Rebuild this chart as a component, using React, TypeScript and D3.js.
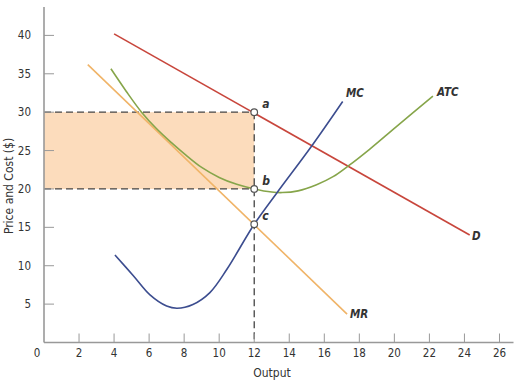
import * as d3 from 'd3'

// curve data: [output, price]
const demand: [number, number][] = [[4, 40.2], [24.3, 14]]
const marginalRevenue: [number, number][] = [[2.5, 36.2], [17.3, 3.7]]
const marginalCost: [number, number][] = [
  [4.05, 11.4], [5.1, 8.7], [6.05, 6.2], [7, 4.75], [7.6, 4.46], [8.5, 4.95], [9.47, 6.5],
  [10.43, 9.5], [12, 15.4], [13.28, 19.45], [15.28, 25.6], [17.05, 31.4],
]
const averageTotalCost: [number, number][] = [
  [3.82, 35.65], [4.7, 32.7], [5.57, 30], [6.4, 27.9], [7.29, 26], [8, 24.6], [9, 22.8],
  [10, 21.5], [11, 20.6], [12, 20], [13, 19.6], [13.6, 19.53], [14.5, 19.75], [15.56, 20.55],
  [16.5, 21.6], [17.37, 23.0], [18.6, 25.2], [20.1, 28.1], [22.2, 32.1],
]
const xTicks = [2, 4, 6, 8, 10, 12, 14, 16, 18, 20, 22, 24, 26]
const yTicks = [5, 10, 15, 20, 25, 30, 35, 40]
const qStar = 12
const price = 30
const atcAtQ = 20
const mcAtQ = 15.4

const font = '"DejaVu Sans Condensed", "Liberation Sans", sans-serif'

export default function App() {
  const x = d3.scaleLinear().domain([0, 26.8]).range([44, 513.5])
  const y = d3.scaleLinear().domain([0, 43.7]).range([342.5, 7])
  const straight = d3.line<[number, number]>().x(d => x(d[0])).y(d => y(d[1]))
  const smooth = d3.line<[number, number]>().x(d => x(d[0])).y(d => y(d[1])).curve(d3.curveCatmullRom.alpha(0.5))

  const points = [
    { q: qStar, p: price, label: 'a' },
    { q: qStar, p: atcAtQ, label: 'b' },
    { q: qStar, p: mcAtQ, label: 'c' },
  ]
  const axisColor = '#999'
  const dash = '7,4'

  return (
    <div style={{ position: 'absolute', left: 0, top: 0 }}>
      <svg width={522} height={385} style={{ display: 'block', fontFamily: font }}>
        <rect x={0} y={0} width={522} height={385} fill="#fff" />
        {/* profit area */}
        <rect x={x(0)} y={y(price)} width={x(qStar) - x(0)} height={y(atcAtQ) - y(price)} fill="#fcdcbc" />
        <line x1={x(0)} x2={x(qStar)} y1={y(price)} y2={y(price)} stroke="#444" strokeWidth={1.3} strokeDasharray={dash} />
        <line x1={x(0)} x2={x(qStar)} y1={y(atcAtQ)} y2={y(atcAtQ)} stroke="#444" strokeWidth={1.3} strokeDasharray={dash} />
        <line x1={x(qStar)} x2={x(qStar)} y1={y(price)} y2={y(0)} stroke="#444" strokeWidth={1.3} strokeDasharray={dash} />

        {/* axes */}
        <line x1={x(0)} x2={x(0)} y1={y(43.7)} y2={y(0)} stroke={axisColor} strokeWidth={1.6} />
        <line x1={x(0)} x2={x(26.8)} y1={y(0)} y2={y(0)} stroke={axisColor} strokeWidth={1.6} />
        {yTicks.map(t => (
          <g key={'y' + t}>
            <line x1={x(0)} x2={x(0) + 10} y1={y(t)} y2={y(t)} stroke={axisColor} strokeWidth={1} />
            <text x={31} y={y(t) + 4} textAnchor="end" fontSize={11.5} fill="#333">{t}</text>
          </g>
        ))}
        {xTicks.map(t => (
          <g key={'x' + t}>
            <line x1={x(t)} x2={x(t)} y1={y(0)} y2={y(0) - 9} stroke={axisColor} strokeWidth={1} />
            <text x={x(t)} y={357} textAnchor="middle" fontSize={11.5} fill="#333">{t}</text>
          </g>
        ))}
        <text x={37} y={357} textAnchor="middle" fontSize={11.5} fill="#333">0</text>
        <text x={272} y={377} textAnchor="middle" fontSize={12} fill="#333">Output</text>
        <text transform="translate(13,186) rotate(-90)" textAnchor="middle" fontSize={12} fill="#333">Price and Cost ($)</text>

        {/* curves */}
        <path d={straight(demand) ?? ''} fill="none" stroke="#c8463c" strokeWidth={1.6} />
        <path d={straight(marginalRevenue) ?? ''} fill="none" stroke="#f0b468" strokeWidth={1.6} />
        <path d={smooth(averageTotalCost) ?? ''} fill="none" stroke="#86a54a" strokeWidth={1.6} />
        <path d={smooth(marginalCost) ?? ''} fill="none" stroke="#3c4d8f" strokeWidth={1.6} />

        {points.map(pt => (
          <g key={pt.label}>
            <circle cx={x(pt.q)} cy={y(pt.p)} r={3.3} fill="#fff" stroke="#555" strokeWidth={1.2} />
            <text x={x(pt.q) + 8} y={y(pt.p) - 4} fontSize={12} fontStyle="italic" fontWeight="bold" fill="#333">{pt.label}</text>
          </g>
        ))}

        <text x={346} y={97} fontSize={11.5} fontStyle="italic" fontWeight="bold" fill="#333">MC</text>
        <text x={437} y={96} fontSize={11.5} fontStyle="italic" fontWeight="bold" fill="#333">ATC</text>
        <text x={472} y={240} fontSize={11.5} fontStyle="italic" fontWeight="bold" fill="#333">D</text>
        <text x={350} y={318} fontSize={11.5} fontStyle="italic" fontWeight="bold" fill="#333">MR</text>
      </svg>
    </div>
  )
}
